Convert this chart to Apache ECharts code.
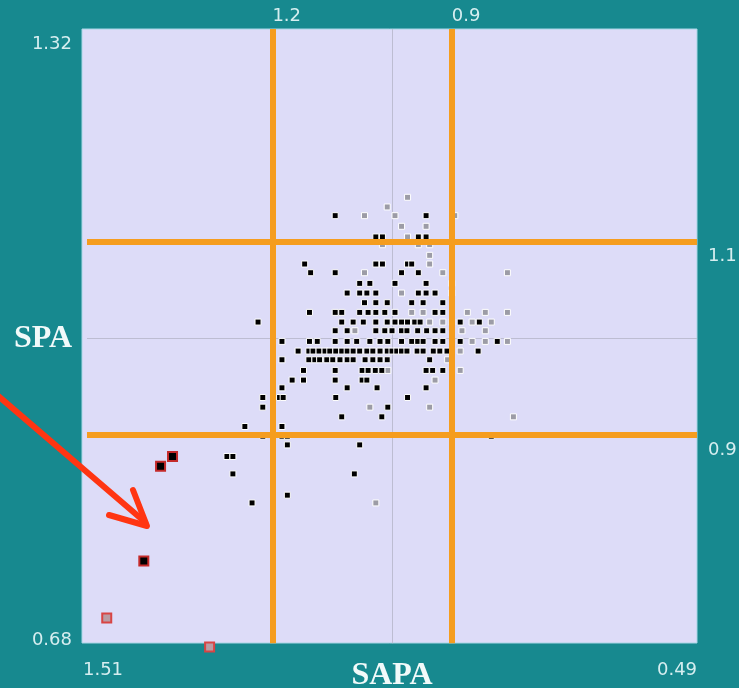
<!DOCTYPE html>
<html><head><meta charset="utf-8">
<script src="https://cdn.jsdelivr.net/npm/echarts@6/dist/echarts.min.js"></script>
<style>html,body{margin:0;padding:0;background:#17898f;overflow:hidden}#c{width:739px;height:688px}</style>
</head><body><div id="c"></div>
<script>
// ---- data ----
const xAxisName = 'SAPA';
const yAxisName = 'SPA';
const xRange = [0.49, 1.51];
const yRange = [0.68, 1.32];
const xEndLabels = [0.49, 1.51];
const yEndLabels = [0.68, 1.32];
const xRefLines = [1.2, 0.9];
const yRefLines = [1.1, 0.9];
const xCenterLine = 1.0;
const yCenterLine = 1.0;
// vertical reference lines stop at the lower edge of the lavender panel
const panelYBottom = 0.685;

const blackPts = [
 [1.095,1.127],[0.943,1.127],
 [1.027,1.105],[1.016,1.105],[0.956,1.105],[0.943,1.105],
 [1.146,1.077],[1.027,1.077],[1.016,1.077],[0.974,1.077],[0.967,1.077],
 [1.136,1.068],[1.095,1.068],[0.984,1.068],[0.956,1.068],
 [1.054,1.057],[1.037,1.057],[0.995,1.057],[0.943,1.057],
 [1.075,1.047],[1.054,1.047],[1.042,1.047],[1.027,1.047],[0.956,1.047],[0.943,1.047],[0.928,1.047],
 [1.046,1.037],[1.027,1.037],[1.008,1.037],[0.967,1.037],[0.948,1.037],[0.915,1.037],
 [1.138,1.027],[1.095,1.027],[1.084,1.027],[1.054,1.027],[1.040,1.027],[1.027,1.027],[1.012,1.027],[0.995,1.027],[0.928,1.027],[0.915,1.027],
 [1.224,1.017],[1.084,1.017],[1.065,1.017],[1.048,1.017],[1.027,1.017],[1.008,1.017],[0.995,1.017],[0.984,1.017],[0.974,1.017],[0.962,1.017],[0.953,1.017],[0.900,1.017],[0.886,1.017],[0.854,1.017],
 [1.095,1.008],[1.075,1.008],[1.027,1.008],[1.012,1.008],[1.000,1.008],[0.984,1.008],[0.975,1.008],[0.957,1.008],[0.942,1.008],[0.928,1.008],[0.915,1.008],
 [1.184,0.997],[1.138,0.997],[1.125,0.997],[1.095,0.997],[1.075,0.997],[1.059,0.997],[1.037,0.997],[1.020,0.997],[1.007,0.997],[0.984,0.997],[0.967,0.997],[0.957,0.997],[0.948,0.997],[0.928,0.997],[0.915,0.997],[0.886,0.997],[0.824,0.997],
 [1.157,0.987],[1.139,0.987],[1.132,0.987],[1.122,0.987],[1.112,0.987],[1.104,0.987],[1.094,0.987],[1.084,0.987],[1.075,0.987],[1.065,0.987],[1.054,0.987],[1.042,0.987],[1.032,0.987],[1.020,0.987],[1.008,0.987],[1.000,0.987],[0.992,0.987],[0.984,0.987],[0.975,0.987],[0.958,0.987],[0.948,0.987],[0.931,0.987],[0.920,0.987],[0.908,0.987],[0.856,0.987],
 [1.184,0.978],[1.139,0.978],[1.129,0.978],[1.121,0.978],[1.109,0.978],[1.099,0.978],[1.087,0.978],[1.075,0.978],[1.065,0.978],[1.045,0.978],[1.032,0.978],[1.020,0.978],[1.008,0.978],[0.937,0.978],
 [1.148,0.967],[1.095,0.967],[1.050,0.967],[1.040,0.967],[1.028,0.967],[1.017,0.967],[0.943,0.967],[0.932,0.967],[0.915,0.967],
 [1.167,0.957],[1.148,0.957],[1.095,0.957],[1.050,0.957],[1.042,0.957],
 [1.184,0.949],[1.075,0.949],[1.025,0.949],[0.943,0.949],
 [1.216,0.939],[1.188,0.939],[1.182,0.939],[1.094,0.939],[0.974,0.939],
 [1.216,0.929],[1.007,0.929],
 [1.084,0.919],[1.017,0.919],
 [1.246,0.909],[1.184,0.909],
 [1.216,0.899],[1.184,0.899],[1.175,0.899],[0.834,0.899],
 [1.175,0.890],[1.054,0.890],
 [1.276,0.878],[1.266,0.878],
 [1.266,0.860],[1.063,0.860],
 [1.175,0.838],
 [1.234,0.830]
];

const grayPts = [
 [0.974,1.146],
 [1.008,1.136],
 [1.046,1.127],[0.995,1.127],[0.895,1.127],
 [0.984,1.116],[0.943,1.116],
 [0.974,1.105],
 [1.016,1.097],[0.956,1.097],[0.937,1.097],
 [0.937,1.086],
 [0.937,1.077],
 [1.046,1.068],[0.915,1.068],[0.807,1.068],
 [0.900,1.057],
 [0.984,1.047],[0.900,1.047],
 [0.967,1.027],[0.948,1.027],[0.874,1.027],[0.844,1.027],[0.807,1.027],
 [0.937,1.017],[0.915,1.017],[0.866,1.017],[0.834,1.017],
 [1.062,1.008],[0.883,1.008],[0.844,1.008],
 [0.866,0.997],[0.844,0.997],[0.807,0.997],
 [0.886,0.987],
 [0.907,0.978],
 [1.007,0.967],[0.886,0.967],
 [0.928,0.957],
 [1.037,0.929],[0.937,0.929],
 [0.797,0.919],
 [1.027,0.830]
];

const flaggedDark = [[1.367,0.878],[1.387,0.868],[1.415,0.770]];
const flaggedLight = [[1.477,0.711],[1.305,0.681]];

// ---- styles ----
const TEAL = '#17898f';
const PLOT = '#dddcf8';
const LABEL = '#d6eef0';
const ORANGE = '#f59d1f';
const LABEL_FONT = 18;

const topLabel = v => ({show: true, position: 'end', formatter: String(v), align: 'left', verticalAlign: 'bottom',
                        distance: 4, color: LABEL, fontSize: LABEL_FONT, fontFamily: 'DejaVu Sans'});
const sideLabel = v => ({show: true, position: 'start', formatter: String(v), align: 'left', verticalAlign: 'top',
                         distance: 11, padding: [6, 0, 0, 0], color: LABEL, fontSize: LABEL_FONT, fontFamily: 'DejaVu Sans'});
const vLine = (v, label) => [
  {xAxis: v, yAxis: panelYBottom, label: label},
  {xAxis: v, yAxis: yRange[1], label: label}
];

const chart = echarts.init(document.getElementById('c'), null, {renderer: 'canvas'});

const option = {
  animation: false,
  backgroundColor: TEAL,
  textStyle: {fontFamily: 'DejaVu Sans'},
  grid: {left: 87, right: 42, top: 29, bottom: 40, containLabel: false, outerBoundsMode: 'none'},
  graphic: [
    {type: 'rect', z: -10, silent: true,
     shape: {x: 82, y: 29, width: 615, height: 614},
     style: {fill: PLOT, stroke: '#a9d6e6', lineWidth: 1}},
    {type: 'polyline', z: 100, silent: true,
     shape: {points: [[-4, 394], [145, 522]]},
     style: {stroke: '#ff3512', lineWidth: 6, lineCap: 'round', fill: null}},
    {type: 'polyline', z: 100, silent: true,
     shape: {points: [[109, 515], [147, 526], [133, 490]]},
     style: {stroke: '#ff3512', lineWidth: 6, lineCap: 'round', lineJoin: 'round', fill: null}}
  ],
  xAxis: {
    type: 'value', inverse: true, min: xRange[0], max: xRange[1],
    name: xAxisName, nameLocation: 'middle', nameGap: 12, nameMoveOverlap: false,
    nameTextStyle: {fontFamily: 'Liberation Serif', fontWeight: 'bold', fontSize: 32, color: '#f2fafa'},
    axisLine: {show: false}, axisTick: {show: false}, splitLine: {show: false},
    axisLabel: {
      customValues: xEndLabels, margin: 13, color: LABEL, fontSize: LABEL_FONT,
      formatter: v => (v > 1 ? '{l|' : '{r|') + v.toFixed(2) + '}',
      rich: {
        l: {color: LABEL, fontSize: LABEL_FONT, fontFamily: 'DejaVu Sans', padding: [0, 0, 0, 32]},
        r: {color: LABEL, fontSize: LABEL_FONT, fontFamily: 'DejaVu Sans', padding: [0, 40, 0, 0]}
      }
    }
  },
  yAxis: {
    type: 'value', min: yRange[0], max: yRange[1],
    name: yAxisName, nameLocation: 'middle', nameRotate: 0, nameGap: 15, nameMoveOverlap: false,
    nameTextStyle: {fontFamily: 'Liberation Serif', fontWeight: 'bold', fontSize: 32, color: '#f2fafa'},
    axisLine: {show: false}, axisTick: {show: false}, splitLine: {show: false},
    axisLabel: {
      customValues: yEndLabels, margin: 15, color: LABEL, fontSize: LABEL_FONT,
      formatter: v => (v > 1 ? '{t|' : '{b|') + v.toFixed(2) + '}',
      rich: {
        t: {color: LABEL, fontSize: LABEL_FONT, fontFamily: 'DejaVu Sans', padding: [30, 0, 0, 0]},
        b: {color: LABEL, fontSize: LABEL_FONT, fontFamily: 'DejaVu Sans', padding: [0, 0, 16, 0]}
      }
    }
  },
  series: [
    {
      type: 'scatter', name: 'gray', data: grayPts, z: 2, clip: false,
      symbol: 'rect', symbolSize: 6,
      itemStyle: {color: '#9c9ca6', borderColor: '#ffffff', borderWidth: 1, opacity: 1},
      markLine: {
        silent: true, z: 1, symbol: ['none', 'none'], animation: false,
        label: {show: false},
        lineStyle: {color: '#bdbdd2', width: 1, type: 'solid'},
        data: [vLine(xCenterLine, {show: false}), {yAxis: yCenterLine}]
      }
    },
    {
      type: 'scatter', name: 'black', data: blackPts, z: 3, clip: false,
      symbol: 'rect', symbolSize: 6,
      itemStyle: {color: '#000000', borderColor: '#ffffff', borderWidth: 1, opacity: 1},
      markLine: {
        silent: true, z: 6, symbol: ['none', 'none'], animation: false,
        lineStyle: {color: ORANGE, width: 6, type: 'solid', opacity: 1},
        data: [
          ...xRefLines.map(v => vLine(v, topLabel(v))),
          ...yRefLines.map(v => ({yAxis: v, label: sideLabel(v)}))
        ]
      }
    },
    {
      type: 'scatter', name: 'flaggedDark', data: flaggedDark, z: 4, clip: false,
      symbol: 'rect', symbolSize: 9,
      itemStyle: {color: '#000000', borderColor: '#c42a2a', borderWidth: 2, opacity: 1}
    },
    {
      type: 'scatter', name: 'flaggedLight', data: flaggedLight, z: 4, clip: false,
      symbol: 'rect', symbolSize: 9,
      itemStyle: {color: '#b99ca4', borderColor: '#d84444', borderWidth: 2, opacity: 1}
    }
  ]
};
chart.setOption(option);
</script>
</body></html>
